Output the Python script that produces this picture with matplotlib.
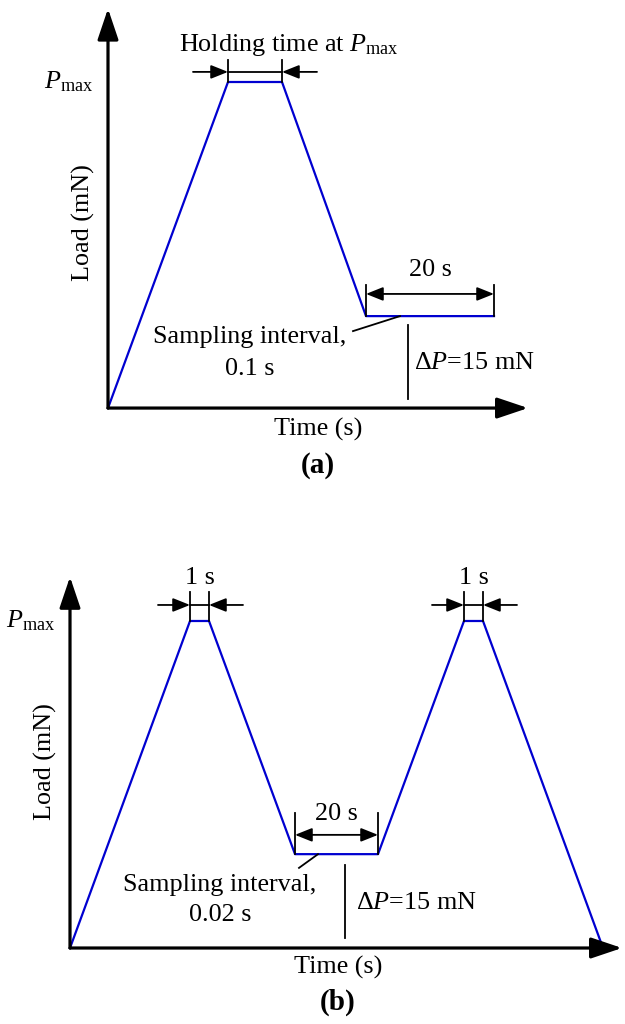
import matplotlib
matplotlib.use("Agg")
import matplotlib.pyplot as plt

plt.rcParams['font.family'] = ['Liberation Serif', 'DejaVu Serif']
plt.rcParams['mathtext.fontset'] = 'custom'
plt.rcParams['mathtext.rm'] = 'Liberation Serif'
plt.rcParams['mathtext.it'] = 'Liberation Serif:italic'

# load profiles (schematic units: Pmax = 1)
time_a = [0, 30, 43.5, 64.5, 96.5]
load_a = [0, 1, 1, 0.282, 0.282]
time_b = [0, 30, 34.75, 56.25, 77, 98.5, 103.25, 133.25]
load_b = [0, 1, 1, 0.287, 0.287, 1, 1, 0]

hold_a = (30, 43.5)
hold_b = [(30, 34.75), (98.5, 103.25)]
span_a = (64.5, 96.5)
span_b = (56.25, 77)

BLUE = '#0000d0'
FS = 18.8

fig = plt.figure(figsize=(6.25, 10.24), dpi=100)


def axis_arrows(ax, xmax, ymax):
    st = '-|>,head_length=0.95,head_width=0.32'
    ax.annotate('', xy=(xmax, 0), xytext=(0, 0),
                arrowprops=dict(arrowstyle=st, lw=2.3, color='k',
                                mutation_scale=20, shrinkA=0, shrinkB=0))
    ax.annotate('', xy=(0, ymax), xytext=(0, 0),
                arrowprops=dict(arrowstyle=st, lw=2.3, color='k',
                                mutation_scale=20, shrinkA=0, shrinkB=0))


def small_arrow(ax, x0, x1, y, style='-|>'):
    ax.annotate('', xy=(x1, y), xytext=(x0, y),
                arrowprops=dict(arrowstyle=style + ',head_length=0.8,head_width=0.32',
                                lw=1.3, color='k', mutation_scale=13,
                                shrinkA=0, shrinkB=0))


def hold_marker(ax, t0, t1, ytop, yarr, gap):
    ax.plot([t0, t0], [1, ytop], color='k', lw=1.3)
    ax.plot([t1, t1], [1, ytop], color='k', lw=1.3)
    ax.plot([t0, t1], [yarr, yarr], color='k', lw=1.3)
    small_arrow(ax, t0 - gap[0], t0, yarr)
    small_arrow(ax, t1 + gap[1], t1, yarr)


def span_marker(ax, t0, t1, ybase, ytop, yarr):
    ax.plot([t0, t0], [ybase, ytop], color='k', lw=1.3)
    ax.plot([t1, t1], [ybase, ytop], color='k', lw=1.3)
    small_arrow(ax, t0, t1, yarr, style='<|-|>')


# ---------- panel (a) ----------
ax = fig.add_axes([0, 1 - 500 / 1024, 1, 500 / 1024])
ax.set_xlim(-27, 129.25)
ax.set_ylim(-0.282, 1.2515)
ax.axis('off')

axis_arrows(ax, 105, 1.225)
ax.plot(time_a, load_a, color=BLUE, lw=1.6)
hold_marker(ax, hold_a[0], hold_a[1], 1.067, 1.031, (8.75, 8.75))
ax.text(45.25, 1.113, r'Holding time at $P_{\mathrm{max}}$', fontsize=FS,
        ha='center', va='center')
ax.text(-3.75, 1.0, r'$P_{\mathrm{max}}$', fontsize=FS, ha='right', va='center')
span_marker(ax, span_a[0], span_a[1], load_a[-1], 0.377, 0.35)
ax.text(80.5, 0.423, '20 s', fontsize=FS, ha='center', va='center')
ax.plot([61.25, 73], [0.236, 0.282], color='k', lw=1.3)
ax.text(35.5, 0.218, 'Sampling interval,', fontsize=FS, ha='center', va='center')
ax.text(35.5, 0.12, '0.1 s', fontsize=FS, ha='center', va='center')
ax.plot([75, 75], [0.028, 0.255], color='k', lw=1.3)
ax.text(76.5, 0.138, 'Δ$P$=15 mN', fontsize=FS, ha='left', va='center')
ax.text(52.5, -0.067, 'Time (s)', fontsize=FS, ha='center', va='center')
ax.text(52.5, -0.175, '(a)', fontsize=21, fontweight='bold', ha='center', va='center')
ax.text(-6.25, 0.57, 'Load (mN)', fontsize=FS, rotation=90, ha='center', va='center')

# ---------- panel (b) ----------
ax = fig.add_axes([0, 0, 1, 524 / 1024])
ax.set_xlim(-17.5, 138.75)
ax.set_ylim(-0.2324, 1.370)
ax.axis('off')

axis_arrows(ax, 138, 1.135)
ax.plot(time_b, load_b, color=BLUE, lw=1.6)
for t0, t1 in hold_b:
    hold_marker(ax, t0, t1, 1.089, 1.049, (8, 8.5))
    ax.text((t0 + t1) / 2, 1.131, '1 s', fontsize=FS, ha='center', va='center')
ax.text(-3.75, 1.0, r'$P_{\mathrm{max}}$', fontsize=FS, ha='right', va='center')
span_marker(ax, span_b[0], span_b[1], load_b[3], 0.413, 0.346)
ax.text(66.6, 0.41, '20 s', fontsize=FS, ha='center', va='center')
ax.plot([57.25, 62], [0.245, 0.287], color='k', lw=1.3)
ax.text(37.5, 0.193, 'Sampling interval,', fontsize=FS, ha='center', va='center')
ax.text(37.5, 0.101, '0.02 s', fontsize=FS, ha='center', va='center')
ax.plot([68.75, 68.75], [0.031, 0.254], color='k', lw=1.3)
ax.text(71.5, 0.138, 'Δ$P$=15 mN', fontsize=FS, ha='left', va='center')
ax.text(67, -0.061, 'Time (s)', fontsize=FS, ha='center', va='center')
ax.text(67, -0.165, '(b)', fontsize=21, fontweight='bold', ha='center', va='center')
ax.text(-6.25, 0.569, 'Load (mN)', fontsize=FS, rotation=90, ha='center', va='center')

fig.savefig('out.png', dpi=100)
